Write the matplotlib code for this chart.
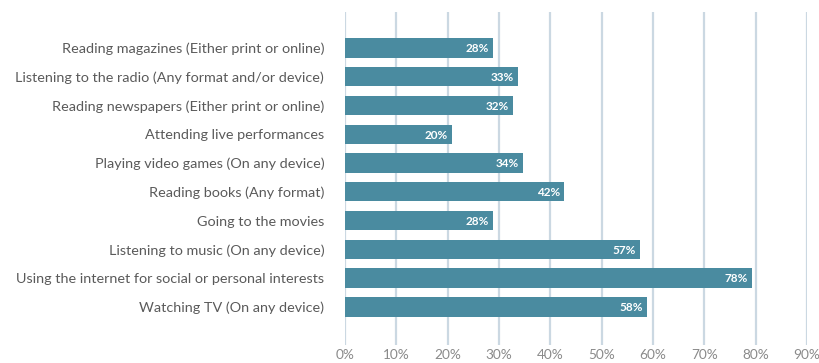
import matplotlib
matplotlib.use("Agg")
import matplotlib.pyplot as plt

# activities, top to bottom as in the chart
activities = [
    "Reading magazines (Either print or online)",
    "Listening to the radio (Any format and/or device)",
    "Reading newspapers (Either print or online)",
    "Attending live performances",
    "Playing video games (On any device)",
    "Reading books (Any format)",
    "Going to the movies",
    "Listening to music (On any device)",
    "Using the internet for social or personal interests",
    "Watching TV (On any device)",
]
# printed labels
shares = [28, 33, 32, 20, 34, 42, 28, 57, 78, 58]
# bar lengths as drawn (slightly longer than labels)
bar_len = [28.8, 33.7, 32.7, 20.8, 34.6, 42.7, 28.9, 57.5, 79.2, 58.8]
ticks = [0, 10, 20, 30, 40, 50, 60, 70, 80, 90]

bar_color = "#4a8ba0"
grid_color = "#cbd8e2"
text_color = "#5a5a5a"

plt.rcParams['font.family'] = ['Lato', 'DejaVu Sans']

fig = plt.figure(figsize=(8.2, 3.63), dpi=100)
ax = fig.add_axes([0.4207, 0.05, 0.5635, 0.917])

pos = list(range(len(activities)))
ax.barh(pos, bar_len, height=0.67, color=bar_color, zorder=3)
for p, v, s in zip(pos, bar_len, shares):
    ax.text(v - 0.8, p + 0.03, f"{s}%", color="white", fontsize=8.5, fontweight="bold",
            ha="right", va="center", zorder=4)

ax.set_xlim(0, 90)
ax.set_ylim(len(activities) - 1 + 1.32, -1.25)
ax.set_yticks(pos)
ax.set_yticklabels(activities, fontsize=10.4, color=text_color)
ax.set_xticks(ticks)
ax.set_xticklabels([f"{t}%" for t in ticks], fontsize=9.8, color="#8a8a8a")
ax.tick_params(length=0)
ax.tick_params(axis="y", pad=15)
ax.tick_params(axis="x", pad=3)
for t in ticks:
    ax.axvline(t, color=grid_color, lw=1.6, zorder=1)
for s in ax.spines.values():
    s.set_visible(False)

fig.savefig("out.png", dpi=100)
